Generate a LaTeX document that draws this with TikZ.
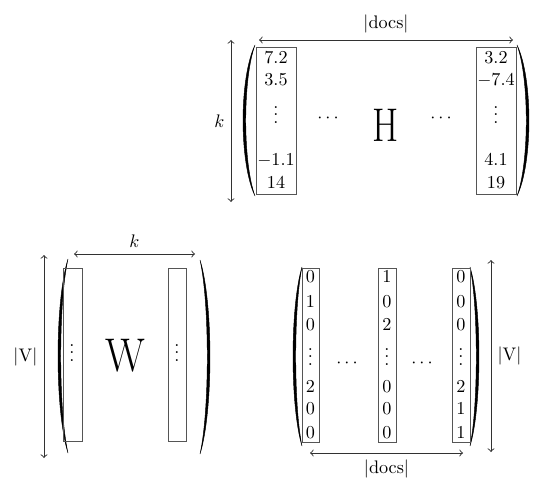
\documentclass[tikz,border=0pt]{standalone}
\usepackage{tikz}
\usetikzlibrary{positioning,calc}
\usepackage{xcolor}
\definecolor{boxline}{RGB}{85,85,85}
\definecolor{arrowline}{RGB}{50,50,50}

% tip x, top y, bottom y, signed bulge (negative opens to the right)
\newcommand\matparen[4]{%
  \filldraw[line width=0.25pt] (#1,#2)
    .. controls ({#1+1.33*(#4)},{#2+0.22*(#3-#2)}) and ({#1+1.33*(#4)},{#3-0.22*(#3-#2)}) .. (#1,#3)
    .. controls ({#1+1.33*(#4)-3.6*sign(#4)},{#3-0.22*(#3-#2)}) and ({#1+1.33*(#4)-3.6*sign(#4)},{#2+0.22*(#3-#2)}) .. cycle;}
% vertical dots without the top kern of \vdots
\newcommand\coldots{\vbox{\baselineskip4pt\lineskiplimit0pt\hbox{.}\hbox{.}\hbox{.}}}

\begin{document}
\begin{tikzpicture}[x=0.55pt, y=-0.55pt,
  colbox/.style={draw=boxline, line width=0.5pt},
  dimarrow/.style={<->, draw=arrowline, line width=0.5pt},
  entry/.style={inner sep=0pt},
  bigletter/.style={inner sep=0pt, font=\fontsize{26}{30}\selectfont}]
\useasboundingbox (0,0) rectangle (540,492);

% H: topics x docs
\matparen{255}{45}{196}{-12}
\matparen{517}{45}{196}{12}
\draw[colbox] (256,47) rectangle (296,194);
\draw[colbox] (476,47) rectangle (516,194);
\foreach \val/\row [count=\i] in {7.2/58, 3.5/80, \coldots/115, -1.1/160, 14/183}
  \node[entry] (hl\i) at (276,\row) {$\val$};
\foreach \val/\row [count=\i] in {3.2/58, -7.4/80, \coldots/115, 4.1/160, 19/183}
  \node[entry] (hr\i) at (496,\row) {$\val$};
\node[entry] (hdotsl) at (328,118) {$\cdots$};
\node[bigletter] (hname) at (386,125) {\scalebox{0.8}[1]{H}};
\node[entry] (hdotsr) at (441,118) {$\cdots$};
\coordinate (hdocsl) at (259,40);
\coordinate (hdocsr) at (513,40);
\draw[dimarrow] (hdocsl) -- node[above] (hdocs) {$|\mathrm{docs}|$} (hdocsr);
\coordinate (hkt) at (231,40);
\coordinate (hkb) at (231,202);
\draw[dimarrow] (hkt) -- node[left] (hk) {$k$} (hkb);

% W: words x topics
\matparen{68}{259}{453}{-10}
\matparen{200}{260}{454}{10}
\draw[colbox] (63,268) rectangle (82,441);
\draw[colbox] (168,268) rectangle (186,441);
\node[entry] (wl) at (72,353) {$\coldots$};
\node[entry] (wr) at (177,353) {$\coldots$};
\node[bigletter] (wname) at (125,356) {\scalebox{0.88}[1]{W}};
\coordinate (wkl) at (74,254);
\coordinate (wkr) at (195,254);
\draw[dimarrow] (wkl) -- node[above] (wk) {$k$} (wkr);
\coordinate (wvt) at (44,255);
\coordinate (wvb) at (44,458);
\draw[dimarrow] (wvt) -- node[left] (wv) {$|\mathrm{V}|$} (wvb);

% V: words x docs
\matparen{302}{267}{446}{-9}
\matparen{470}{267}{446}{9}
\draw[colbox] (302,268) rectangle (319,442);
\draw[colbox] (378,268) rectangle (396,442);
\draw[colbox] (452,268) rectangle (470,442);
\foreach \val/\row [count=\i] in {0/277, 1/302, 0/325, \coldots/357, 2/387, 0/409, 0/433}
  \node[entry] (vl\i) at (310.5,\row) {$\val$};
\foreach \val/\row [count=\i] in {1/277, 0/302, 2/325, \coldots/357, 0/387, 0/409, 0/433}
  \node[entry] (vm\i) at (387,\row) {$\val$};
\foreach \val/\row [count=\i] in {0/277, 0/302, 0/325, \coldots/357, 2/387, 1/409, 1/433}
  \node[entry] (vr\i) at (461,\row) {$\val$};
\node[entry] (vdotsl) at (347,363) {$\cdots$};
\node[entry] (vdotsr) at (422,363) {$\cdots$};
\coordinate (vdocsl) at (310,453);
\coordinate (vdocsr) at (463,453);
\draw[dimarrow] (vdocsl) -- node[below] (vdocs) {$|\mathrm{docs}|$} (vdocsr);
\coordinate (vvt) at (491,260);
\coordinate (vvb) at (491,452);
\draw[dimarrow] (vvt) -- node[right] (vv) {$|\mathrm{V}|$} (vvb);
\end{tikzpicture}
\end{document}
